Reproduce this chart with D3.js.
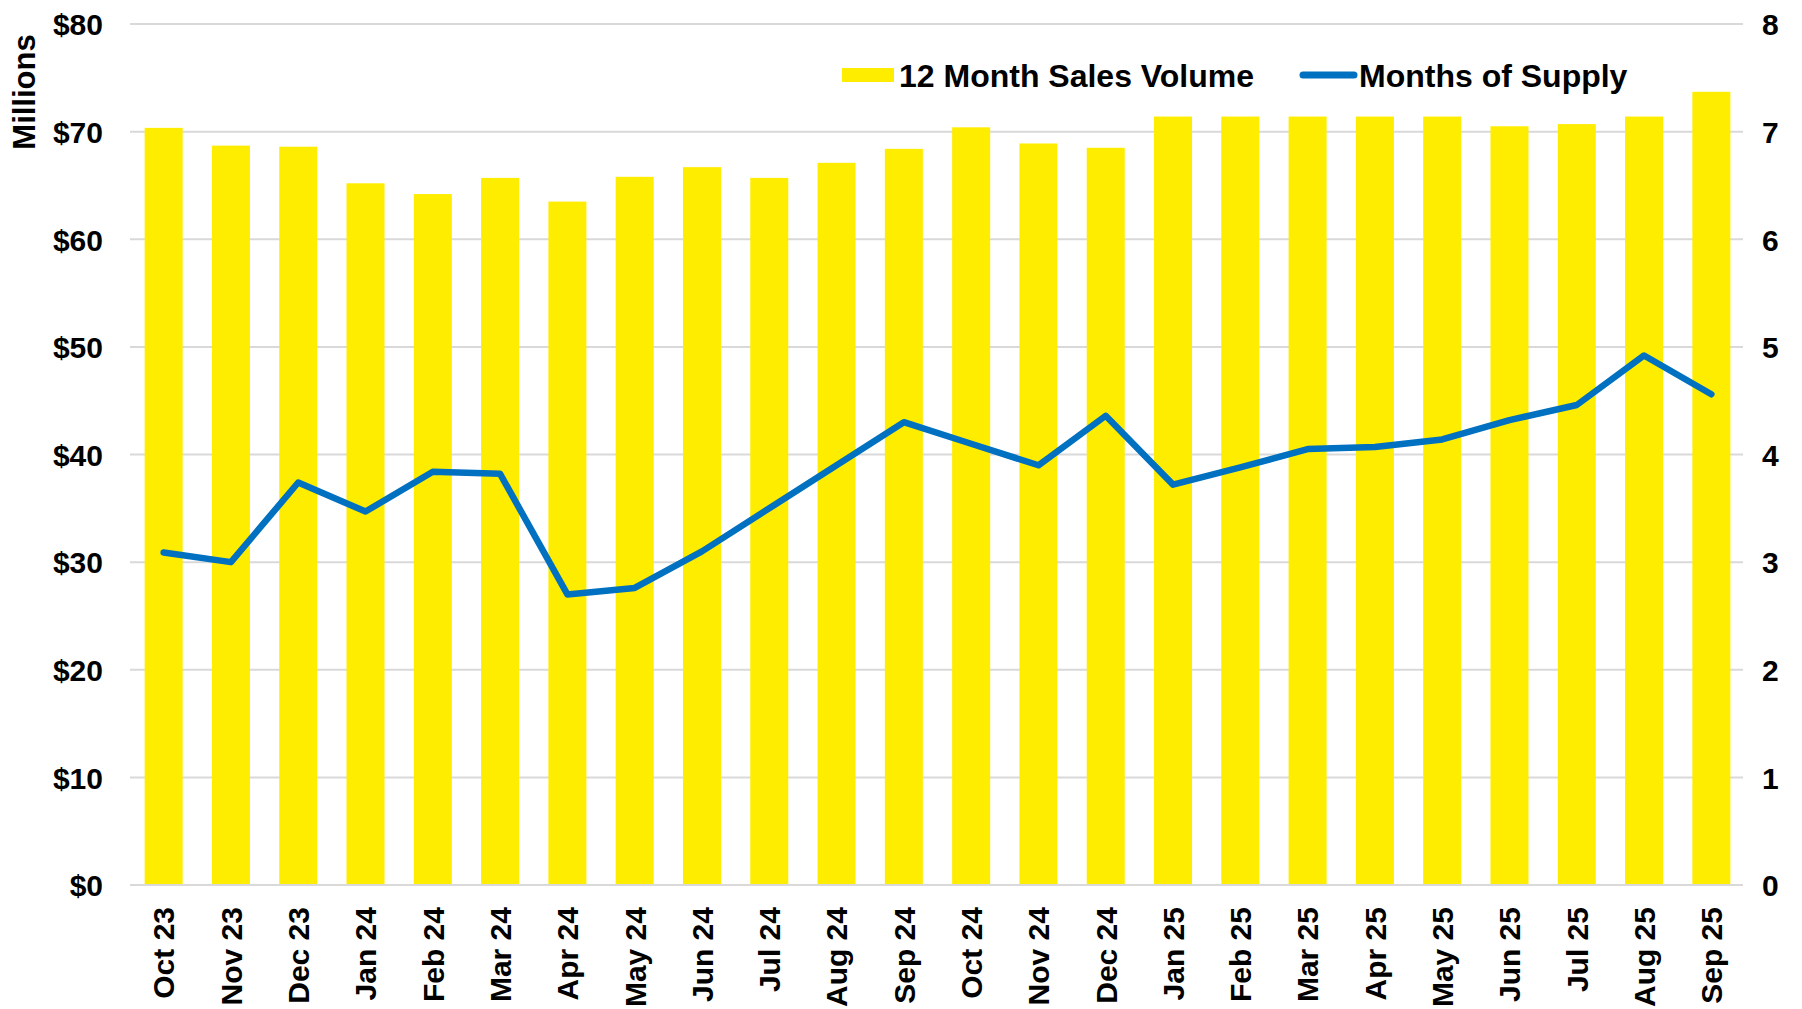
<!DOCTYPE html>
<html>
<head>
<meta charset="utf-8">
<script src="https://cdn.jsdelivr.net/npm/d3@7"></script>
<style>
  body { margin: 0; background: #fff; }
  text { font-family: "Liberation Sans", Arial, sans-serif; font-weight: bold; fill: #000; }
</style>
</head>
<body>
<div id="chart"></div>
<script>
// data
var months = ['Oct 23', 'Nov 23', 'Dec 23', 'Jan 24', 'Feb 24', 'Mar 24', 'Apr 24', 'May 24',
              'Jun 24', 'Jul 24', 'Aug 24', 'Sep 24', 'Oct 24', 'Nov 24', 'Dec 24', 'Jan 25',
              'Feb 25', 'Mar 25', 'Apr 25', 'May 25', 'Jun 25', 'Jul 25', 'Aug 25', 'Sep 25'];

var salesVolume = [70.35, 68.7, 68.6, 65.2, 64.2, 65.7, 63.5, 65.8,
                   66.7, 65.7, 67.1, 68.4, 70.4, 68.9, 68.5, 71.4,
                   71.4, 71.4, 71.4, 71.4, 70.5, 70.7, 71.4, 73.7];

var monthsSupply = [3.09, 3.00, 3.74, 3.47, 3.84, 3.82, 2.70, 2.76,
                    3.10, 3.50, 3.90, 4.30, 4.10, 3.90, 4.36, 3.72,
                    3.88, 4.05, 4.07, 4.14, 4.32, 4.46, 4.92, 4.56];

var leftTicks  = [0, 10, 20, 30, 40, 50, 60, 70, 80];
var rightTicks = [0, 1, 2, 3, 4, 5, 6, 7, 8];

var legendLabels = ['12 Month Sales Volume', 'Months of Supply'];

var W = 1802, H = 1009;
var plot = { left: 130, right: 1745, top: 24, bottom: 885 };

var svg = d3.select('#chart')
            .append('svg')
            .attr('width', W)
            .attr('height', H);

var xScale = d3.scaleBand()
               .domain(months)
               .range([plot.left, plot.right])
               .paddingInner(0.435)
               .paddingOuter(0.2175);

var yLeft = d3.scaleLinear()
              .domain([0, 80])
              .range([plot.bottom, plot.top]);

var yRight = d3.scaleLinear()
               .domain([0, 8])
               .range([plot.bottom, plot.top]);

// gridlines
svg.append('g')
   .selectAll('line')
   .data(leftTicks)
   .join('line')
   .attr('x1', plot.left)
   .attr('x2', plot.right - 2)
   .attr('y1', d => yLeft(d))
   .attr('y2', d => yLeft(d))
   .attr('stroke', '#d9d9d9')
   .attr('stroke-width', 2);

// bars
svg.append('g')
   .selectAll('rect')
   .data(months)
   .join('rect')
   .attr('x', d => xScale(d))
   .attr('width', xScale.bandwidth())
   .attr('y', (d, i) => yLeft(salesVolume[i]))
   .attr('height', (d, i) => yLeft(0) - yLeft(salesVolume[i]) - 1)
   .attr('fill', '#ffed00');

// months of supply line
var line = d3.line()
             .x((d, i) => xScale(months[i]) + xScale.bandwidth() / 2)
             .y(d => yRight(d));

svg.append('path')
   .datum(monthsSupply)
   .attr('d', line)
   .attr('fill', 'none')
   .attr('stroke', '#0070c0')
   .attr('stroke-width', 6.5)
   .attr('stroke-linejoin', 'round')
   .attr('stroke-linecap', 'round');

// left axis
var leftAxis = d3.axisLeft(yLeft)
                 .tickValues(leftTicks)
                 .tickSize(0)
                 .tickPadding(0)
                 .tickFormat(d => '$' + d);

var gL = svg.append('g')
            .attr('transform', 'translate(103,0)')
            .call(leftAxis);
gL.select('.domain').remove();
gL.selectAll('text')
  .style('font-size', '30px')
  .attr('dy', '0.36em');

// right axis
var rightAxis = d3.axisRight(yRight)
                  .tickValues(rightTicks)
                  .tickSize(0)
                  .tickPadding(0);

var gR = svg.append('g')
            .attr('transform', 'translate(1762,0)')
            .call(rightAxis);
gR.select('.domain').remove();
gR.selectAll('text')
  .style('font-size', '30px')
  .attr('dy', '0.36em');

// bottom axis, rotated labels
var bottomAxis = d3.axisBottom(xScale)
                   .tickSize(0)
                   .tickPadding(0);

var gB = svg.append('g')
            .attr('transform', 'translate(0,' + 907 + ')')
            .call(bottomAxis);
gB.select('.domain').remove();
gB.selectAll('text')
  .style('font-size', '30px')
  .style('text-anchor', 'end')
  .attr('transform', 'rotate(-90)')
  .attr('x', 0)
  .attr('y', 0)
  .attr('dy', '0.36em');

// axis title
svg.append('text')
   .attr('transform', 'rotate(-90)')
   .attr('x', -92)
   .attr('y', 24)
   .attr('dy', '0.36em')
   .style('text-anchor', 'middle')
   .style('font-size', '31px')
   .text('Millions');

// legend
svg.append('rect')
   .attr('x', 842)
   .attr('y', 68)
   .attr('width', 52)
   .attr('height', 14)
   .attr('fill', '#ffed00');

svg.append('text')
   .attr('x', 899)
   .attr('y', 75)
   .attr('dy', '0.36em')
   .style('font-size', '32px')
   .text(legendLabels[0]);

svg.append('line')
   .attr('x1', 1303)
   .attr('x2', 1354)
   .attr('y1', 75)
   .attr('y2', 75)
   .attr('stroke', '#0070c0')
   .attr('stroke-width', 7)
   .attr('stroke-linecap', 'round');

svg.append('text')
   .attr('x', 1359)
   .attr('y', 75)
   .attr('dy', '0.36em')
   .style('font-size', '32px')
   .text(legendLabels[1]);
</script>
</body>
</html>
